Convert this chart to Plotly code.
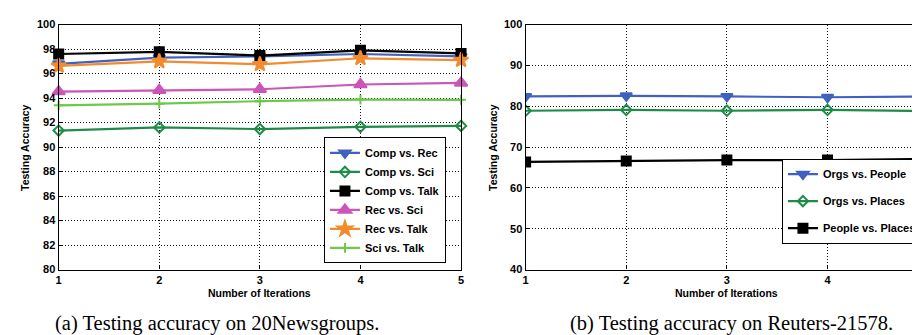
import plotly.graph_objects as go

iterations = [1, 2, 3, 4, 5]

# (a) 20Newsgroups
comp_rec = [96.8, 97.3, 97.4, 97.6, 97.4]
comp_sci = [91.35, 91.6, 91.47, 91.65, 91.73]
comp_talk = [97.6, 97.78, 97.47, 97.9, 97.65]
rec_sci = [94.53, 94.64, 94.72, 95.11, 95.24]
rec_talk = [96.63, 97.0, 96.76, 97.25, 97.1]
sci_talk = [93.41, 93.54, 93.75, 93.88, 93.86]

# (b) Reuters-21578
orgs_people = [82.4, 82.56, 82.4, 82.2, 82.4]
orgs_places = [78.9, 79.1, 78.9, 79.1, 78.8]
people_places = [66.35, 66.6, 66.8, 66.8, 67.1]

left_yticks = [80, 82, 84, 86, 88, 90, 92, 94, 96, 98, 100]
right_yticks = [40, 50, 60, 70, 80, 90, 100]

BLUE = "#4161c0"
DGREEN = "#1e8c48"
BLACK = "#000000"
MAGENTA = "#cc55b8"
ORANGE = "#f28a2e"
LGREEN = "#6cc94a"

fig = go.Figure()

left_series = [
    ("Comp vs. Rec", comp_rec, BLUE, "triangle-down", 10),
    ("Comp vs. Sci", comp_sci, DGREEN, "diamond-open", 8),
    ("Comp vs. Talk", comp_talk, BLACK, "square", 9),
    ("Rec vs. Sci", rec_sci, MAGENTA, "triangle-up", 11),
    ("Rec vs. Talk", rec_talk, ORANGE, "star", 11),
    ("Sci vs. Talk", sci_talk, LGREEN, "cross-thin-open", 7),
]
for name, vals, col, sym, sz in left_series:
    fig.add_trace(go.Scatter(
        x=iterations, y=vals, name=name, mode="lines+markers",
        line=dict(color=col, width=2.2),
        marker=dict(symbol=sym, size=sz, color=col, line=dict(color=col, width=2)),
        xaxis="x", yaxis="y", legend="legend", cliponaxis=False,
    ))

right_series = [
    ("Orgs vs. People", orgs_people, BLUE, "triangle-down", 10),
    ("Orgs vs. Places", orgs_places, DGREEN, "diamond-open", 8),
    ("People vs. Places", people_places, BLACK, "square", 9),
]
for i, (name, vals, col, sym, sz) in enumerate(right_series):
    fig.add_trace(go.Scatter(
        x=iterations, y=vals, name=name, mode="lines+markers",
        line=dict(color=col, width=2.2),
        marker=dict(symbol=sym, size=sz, color=col, line=dict(color=col, width=2)),
        xaxis="x2", yaxis="y2", legend="legend2", legendgroup=f"g{i}",
    ))

tickfont = dict(family="Liberation Sans, Arial", size=11, color="black", weight="bold")
axis_common = dict(
    showline=True, linecolor="black", linewidth=1.3, mirror=True,
    ticks="inside", ticklen=4, tickcolor="black",
    showgrid=True, gridcolor="#111", griddash="1px,2px", gridwidth=1,
    zeroline=False, tickfont=tickfont,
)

H = 335.0
W = 920.0
ydom = [(H - 265) / H, (H - 11) / H]
legfont = dict(family="Liberation Sans, Arial", size=11, color="black", weight="bold")

fig.update_layout(
    width=920, height=335,
    margin=dict(l=0, r=0, t=0, b=0),
    paper_bgcolor="white", plot_bgcolor="white",
    xaxis=dict(domain=[48 / W, 453 / W], range=[1, 5], tickvals=iterations, anchor="y", **axis_common),
    yaxis=dict(domain=ydom, range=[80, 100], tickvals=left_yticks, anchor="x", **axis_common),
    xaxis2=dict(domain=[518 / W, 1.0], range=[1, 1 + (920 - 518) / 101.3], tickvals=iterations, anchor="y2", **axis_common),
    yaxis2=dict(domain=ydom, range=[40, 100], tickvals=right_yticks, anchor="x2", **axis_common),
    legend=dict(
        x=315 / W, y=(H - 128) / H, xanchor="left", yanchor="top",
        bgcolor="white", bordercolor="black", borderwidth=1,
        font=legfont, itemwidth=30, tracegroupgap=0,
    ),
    legend2=dict(
        x=776 / W, y=(H - 150) / H, xanchor="left", yanchor="top",
        bgcolor="white", bordercolor="black", borderwidth=1,
        font=legfont, itemwidth=30, tracegroupgap=8,
    ),
    showlegend=True,
)

lab = dict(family="Liberation Sans, Arial", size=10.5, color="black", weight="bold")
annos = [
    dict(text="Number of Iterations", x=250 / W, y=(H - 289) / H, font=lab),
    dict(text="Number of Iterations", x=720 / W, y=(H - 289) / H, font=lab),
    dict(text="Testing Accuracy", x=14 / W, y=(H - 138) / H, font=lab, textangle=-90),
    dict(text="Testing Accuracy", x=485 / W, y=(H - 138) / H, font=lab, textangle=-90),
    dict(text="(a) Testing accuracy on 20Newsgroups.", x=207 / W, y=(H - 321) / H,
         font=dict(family="Liberation Serif, Times New Roman", size=20.5, color="black")),
    dict(text="(b) Testing accuracy on Reuters-21578.", x=725 / W, y=(H - 321) / H,
         font=dict(family="Liberation Serif, Times New Roman", size=20.5, color="black")),
]
for a in annos:
    a.update(xref="paper", yref="paper", showarrow=False, xanchor="center", yanchor="middle")
    fig.add_annotation(**a)

fig.write_html("out.html")
